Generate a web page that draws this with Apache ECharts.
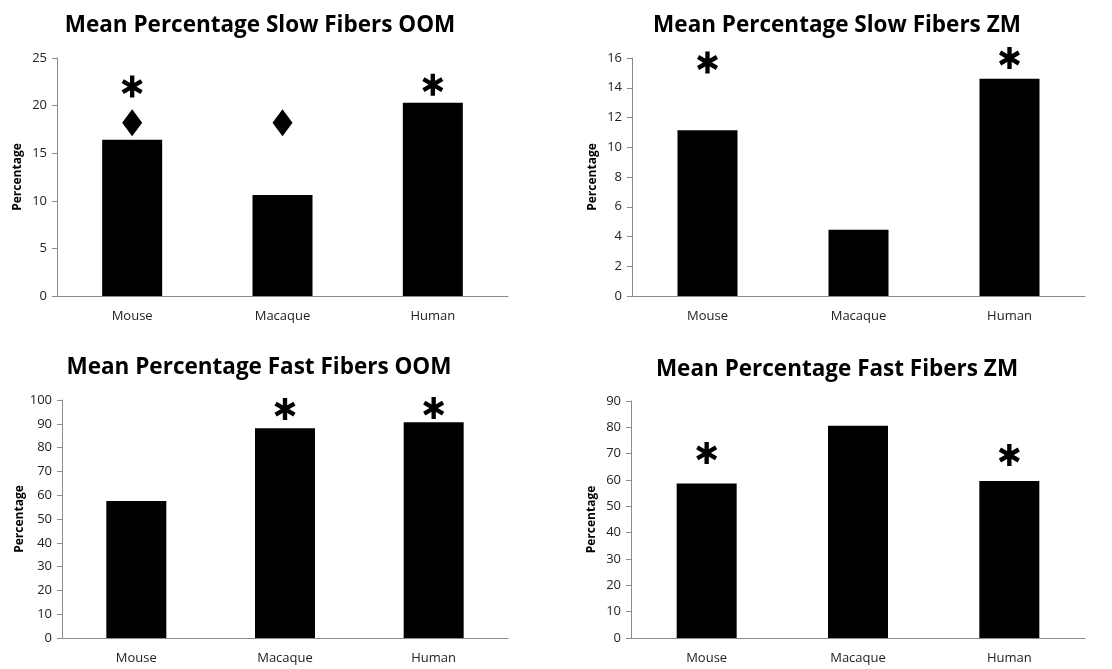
<!DOCTYPE html>
<html>
<head>
<meta charset="utf-8">
<script src="https://cdn.jsdelivr.net/npm/echarts@6/dist/echarts.min.js"></script>
<style>
html,body{margin:0;padding:0;background:#fff;}
#chart{width:1112px;height:669px;}
</style>
</head>
<body>
<div id="chart"></div>
<script>
// ---- data ----
var categories = ['Mouse', 'Macaque', 'Human'];
var titles = ['Mean Percentage Slow Fibers OOM', 'Mean Percentage Slow Fibers ZM',
              'Mean Percentage Fast Fibers OOM', 'Mean Percentage Fast Fibers ZM'];
var slowOOM = [16.4, 10.6, 20.3];
var slowZM = [11.15, 4.45, 14.6];
var fastOOM = [57.6, 88.1, 90.6];
var fastZM = [58.7, 80.6, 59.6];
// significance markers (value on the y scale where the marker sits; null = none)
var slowOOMStar = [22.0, null, 22.2];
var slowOOMDiamond = [18.2, 18.2, null];
var slowZMStar = [15.7, null, 16.0];
var fastOOMStar = [null, 96.2, 96.6];
var fastZMStar = [70.3, null, 69.5];
// axis ranges
var yMax = [25, 16, 100, 90];
var yStep = [5, 2, 10, 10];

var panels = [
  {vals: slowOOM, star: slowOOMStar, diamond: slowOOMDiamond},
  {vals: slowZM, star: slowZMStar, diamond: null},
  {vals: fastOOM, star: fastOOMStar, diamond: null},
  {vals: fastZM, star: fastZMStar, diamond: null}
];

var grids = [
  {left: 57, top: 58, width: 451, height: 238},
  {left: 632, top: 58, width: 453, height: 238},
  {left: 62, top: 400, width: 446, height: 238},
  {left: 631, top: 401, width: 454, height: 237}
];
var titlePos = [
  {left: 255, top: 9}, {left: 832, top: 9},
  {left: 254, top: 351}, {left: 832, top: 353}
];

var asteriskPath = 'path://M40 0 L60 0 L60 100 L40 100 Z M1.7 33.7 L11.7 16.3 L98.3 66.3 L88.3 83.7 Z M1.7 66.3 L88.3 16.3 L98.3 33.7 L11.7 83.7 Z';
var FONT = '"Open Sans", "DejaVu Sans", sans-serif';
var axisGray = '#8a8a8a';

var option = {
  backgroundColor: '#ffffff',
  animation: false,
  title: [],
  grid: [],
  xAxis: [],
  yAxis: [],
  series: []
};

panels.forEach(function (p, i) {
  option.title.push({
    text: titles[i],
    left: titlePos[i].left,
    top: titlePos[i].top,
    textAlign: 'center',
    textStyle: {fontFamily: FONT, fontWeight: 'bold', fontSize: 22.5, color: '#000'}
  });
  option.grid.push(grids[i]);
  option.xAxis.push({
    type: 'category', gridIndex: i, data: categories,
    axisLine: {show: true, lineStyle: {color: axisGray, width: 1}},
    axisTick: {show: false},
    axisLabel: {fontFamily: FONT, fontSize: 13, color: '#222', margin: 14}
  });
  option.yAxis.push({
    type: 'value', gridIndex: i, min: 0, max: yMax[i], interval: yStep[i],
    name: 'Percentage', nameLocation: 'middle', nameGap: 33, nameRotate: 90,
    nameTextStyle: {fontFamily: FONT, fontWeight: 'bold', fontSize: 12, color: '#000'},
    axisLine: {show: true, lineStyle: {color: axisGray, width: 1}},
    axisTick: {show: true, length: 5, lineStyle: {color: axisGray}},
    splitLine: {show: false},
    axisLabel: {fontFamily: FONT, fontSize: 13, color: '#222', margin: 10}
  });
  option.series.push({
    type: 'bar', xAxisIndex: i, yAxisIndex: i, data: p.vals,
    barWidth: 60, itemStyle: {color: '#000'}, silent: true
  });
  option.series.push({
    type: 'scatter', xAxisIndex: i, yAxisIndex: i, data: p.star,
    symbol: asteriskPath, symbolSize: [21, 22], clip: false,
    itemStyle: {color: '#000', opacity: 1}, silent: true, z: 5
  });
  if (p.diamond) {
    option.series.push({
      type: 'scatter', xAxisIndex: i, yAxisIndex: i, data: p.diamond,
      symbol: 'diamond', symbolSize: [20, 27], clip: false,
      itemStyle: {color: '#000', opacity: 1}, silent: true, z: 5
    });
  }
});

var chart = echarts.init(document.getElementById('chart'), null, {renderer: 'canvas'});
chart.setOption(option);
</script>
</body>
</html>
